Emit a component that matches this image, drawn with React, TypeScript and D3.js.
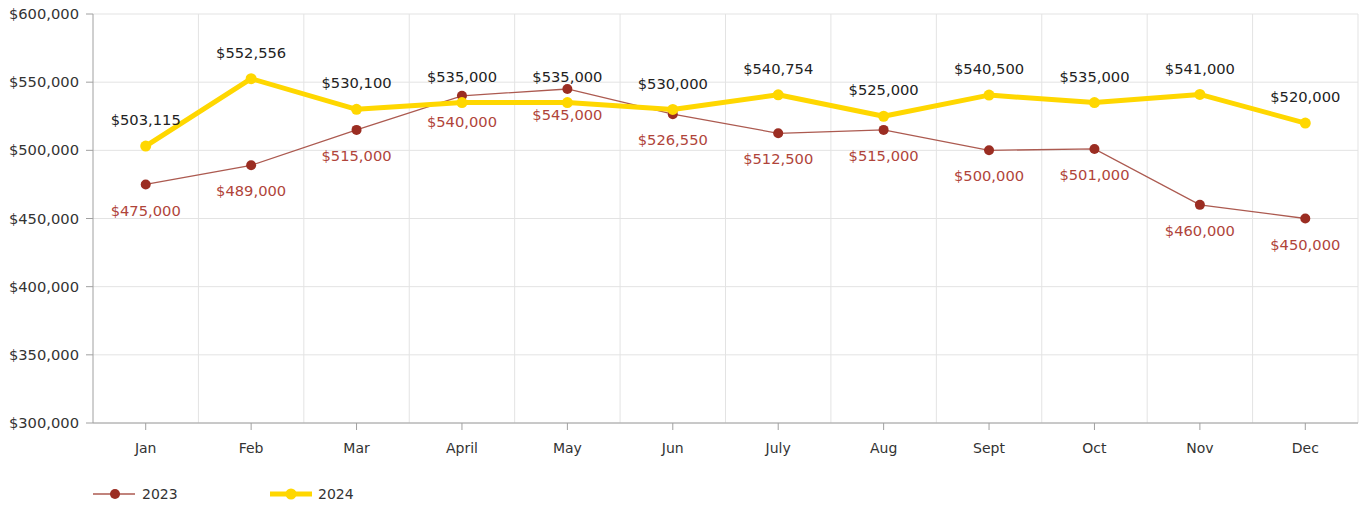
import React from "react";
import * as d3 from "d3";

const months = ["Jan", "Feb", "Mar", "April", "May", "Jun", "July", "Aug", "Sept", "Oct", "Nov", "Dec"];
const values2023 = [475000, 489000, 515000, 540000, 545000, 526550, 512500, 515000, 500000, 501000, 460000, 450000];
const values2024 = [503115, 552556, 530100, 535000, 535000, 530000, 540754, 525000, 540500, 535000, 541000, 520000];
const yTicks = [300000, 350000, 400000, 450000, 500000, 550000, 600000];

const W = 1365, H = 508;
const left = 93, right = 1358, top = 14, bottom = 423;
const RED = "#9b2d22", RED_LINE = "#ac5a50", RED_TEXT = "#b0443a", YEL = "#ffd700";
const FONT = "'DejaVu Sans', Verdana, sans-serif";

export default function App() {
  const x = d3.scaleBand<string>().domain(months).range([left, right]).padding(0);
  const y = d3.scaleLinear().domain([300000, 600000]).range([bottom, top]);
  const cx = (m: string) => (x(m) as number) + x.bandwidth() / 2;
  const fmt = (v: number) => "$" + d3.format(",")(v);
  const line = d3.line<number>().x((_, i) => cx(months[i])).y((v) => y(v));

  return (
    <svg width={W} height={H} style={{ position: "absolute", left: 0, top: 0, background: "#fff" }} fontFamily={FONT}>
      {yTicks.map((t) => (
        <line key={"hg" + t} x1={left} x2={right} y1={y(t)} y2={y(t)} stroke="#e3e3e3" strokeWidth={1} />
      ))}
      {months.map((m) => (
        <line key={"vg" + m} x1={(x(m) as number) + x.bandwidth()} x2={(x(m) as number) + x.bandwidth()} y1={top} y2={bottom} stroke="#e3e3e3" strokeWidth={1} />
      ))}
      <line x1={left} x2={left} y1={top} y2={bottom} stroke="#a0a0a0" />
      {yTicks.map((t) => (
        <g key={"yt" + t}>
          <line x1={left - 7} x2={left} y1={y(t)} y2={y(t)} stroke="#a0a0a0" />
          <text x={left - 14} y={y(t)} dy="0.35em" textAnchor="end" fontSize={14.7} fill="#333">{fmt(t)}</text>
        </g>
      ))}
      <line x1={left} x2={right} y1={bottom} y2={bottom} stroke="#a0a0a0" />
      {months.map((m) => (
        <g key={"xt" + m}>
          <line x1={cx(m)} x2={cx(m)} y1={bottom} y2={bottom + 7} stroke="#a0a0a0" />
          <text x={cx(m)} y={bottom + 25} dy="0.35em" textAnchor="middle" fontSize={14} fill="#333">{m}</text>
        </g>
      ))}
      <path d={line(values2023) || ""} fill="none" stroke={RED_LINE} strokeWidth={1.3} />
      {values2023.map((v, i) => (
        <circle key={"p23" + i} cx={cx(months[i])} cy={y(v)} r={5} fill={RED} />
      ))}
      <path d={line(values2024) || ""} fill="none" stroke={YEL} strokeWidth={5} strokeLinejoin="round" />
      {values2024.map((v, i) => (
        <circle key={"p24" + i} cx={cx(months[i])} cy={y(v)} r={5.5} fill={YEL} />
      ))}
      {values2023.map((v, i) => (
        <text key={"l23" + i} x={cx(months[i])} y={y(v) + 26} dy="0.35em" textAnchor="middle" fontSize={14.7} fill={RED_TEXT}>{fmt(v)}</text>
      ))}
      {values2024.map((v, i) => (
        <text key={"l24" + i} x={cx(months[i])} y={y(v) - 26} dy="0.35em" textAnchor="middle" fontSize={14.7} fill="#222">{fmt(v)}</text>
      ))}
      <g>
        <line x1={93} x2={135} y1={494} y2={494} stroke={RED_LINE} strokeWidth={1.3} />
        <circle cx={115} cy={494} r={5} fill={RED} />
        <text x={142} y={494} dy="0.35em" fontSize={14} fill="#333">2023</text>
        <line x1={270} x2={312} y1={494} y2={494} stroke={YEL} strokeWidth={5} />
        <circle cx={291} cy={494} r={5.5} fill={YEL} />
        <text x={318} y={494} dy="0.35em" fontSize={14} fill="#333">2024</text>
      </g>
    </svg>
  );
}
